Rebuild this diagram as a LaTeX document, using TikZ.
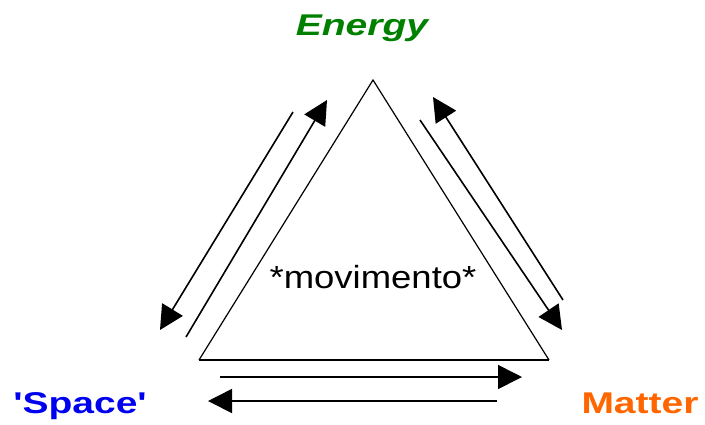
\documentclass[tikz,border=0pt]{standalone}
\usepackage{fontspec}
\setmainfont{Liberation Sans}
\newfontfamily\wideb[FakeStretch=1.3]{Liberation Sans}
\newfontfamily\widem[FakeStretch=1.14]{Liberation Sans}
\usetikzlibrary{arrows.meta}
\definecolor{enggreen}{RGB}{0,128,0}
\definecolor{spcblue}{RGB}{0,0,240}
\definecolor{mattorange}{RGB}{255,102,0}
\tikzset{
  flow/.style={line width=0.8pt,-{Triangle[length=12pt,width=12pt]}},
  corner/.style={font=\wideb\bfseries\fontsize{15}{18}\selectfont,anchor=base}
}
\begin{document}
\begin{tikzpicture}[x=0.5pt,y=-0.5pt]
            \useasboundingbox (0,0) rectangle (705,424);
            \coordinate (top) at (373,80);
            \coordinate (bl) at (199,360);
            \coordinate (br) at (549,360);
            \draw[line width=0.6pt] (bl) -- (top) -- (br);
            \draw[line width=1.1pt] (bl) -- (br);
            % left side
            \coordinate (lo1) at (293,112);
            \coordinate (lo2) at (160,330);
            \coordinate (li1) at (186,337);
            \coordinate (li2) at (327,100);
            \draw[flow] (lo1) -- (lo2);
            \draw[flow] (li1) -- (li2);
            % right side
            \coordinate (ro1) at (563,300);
            \coordinate (ro2) at (433,97);
            \coordinate (ri1) at (420,120);
            \coordinate (ri2) at (562,330);
            \draw[flow] (ro1) -- (ro2);
            \draw[flow] (ri1) -- (ri2);
            % bottom
            \coordinate (b1) at (220,377);
            \coordinate (b2) at (522,377);
            \coordinate (b3) at (497,401);
            \coordinate (b4) at (208,401);
            \draw[flow] (b1) -- (b2);
            \draw[flow] (b3) -- (b4);
            \node[corner,enggreen,font=\wideb\bfseries\itshape\fontsize{15}{18}\selectfont] (energy) at (362,35) {Energy};
            \node[corner,spcblue] (space) at (80,413) {'Space'};
            \node[corner,mattorange] (matter) at (640,413) {Matter};
            \node[anchor=base,font=\widem\fontsize{16}{19}\selectfont] (mov) at (373,288) {*movimento*};
        \end{tikzpicture}
\end{document}
